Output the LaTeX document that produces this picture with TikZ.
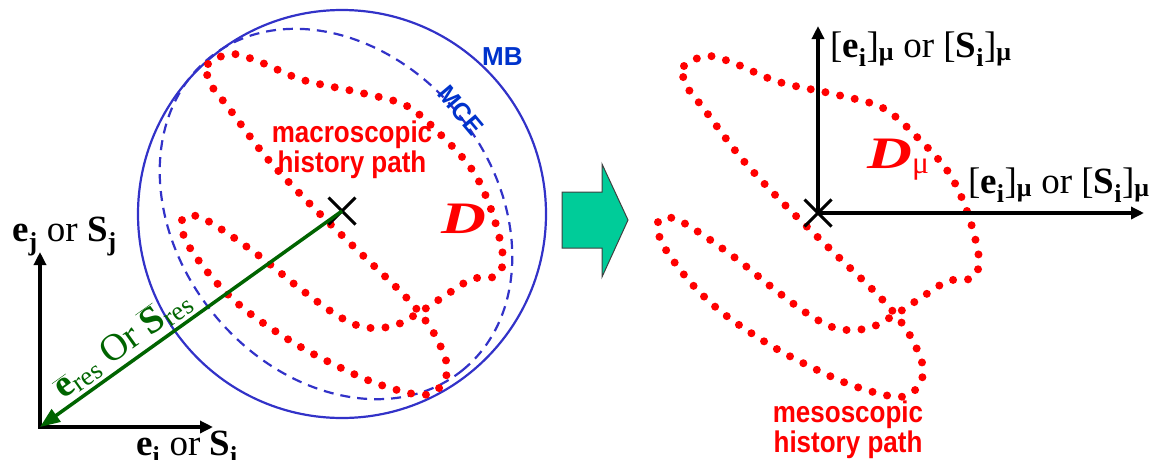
\documentclass[tikz,border=0pt]{standalone}
\usepackage{fontspec}
\setmainfont{Liberation Serif}
\setsansfont{Liberation Sans}
\usetikzlibrary{arrows.meta,shapes.misc}
\definecolor{mbblue}{RGB}{50,50,200}
\definecolor{txtblue}{RGB}{0,51,204}
\definecolor{dkgreen}{RGB}{0,100,0}
\definecolor{tealarrow}{RGB}{0,204,153}
\newcommand\bsub[1]{\textsubscript{\textbf{#1}}}
\begin{document}
\begin{tikzpicture}[x=1pt,y=-1pt,
  dots/.style={red, line width=8pt, line cap=round, dash pattern=on 0pt off 15pt},
  axisarrows/.style={line width=4pt, black, line join=miter, {Triangle[length=13pt,width=12pt]}-{Triangle[length=13pt,width=12pt]}},
  axlabel/.style={inner sep=0pt, anchor=base west, font=\fontsize{37}{42}\selectfont},
  redsans/.style={text=red, font=\sffamily\bfseries\fontsize{26}{30}\selectfont, align=center, inner sep=0pt},
  xmark/.style={cross out, draw=black, line width=3pt, minimum size=24pt, inner sep=0pt},
  bigD/.style={text=red, inner sep=0pt, anchor=base west, font=\fontsize{45}{50}\selectfont\bfseries\itshape}]
\useasboundingbox (0,0) rectangle (1162,459);

% MB circle and MCE ellipse
\draw[mbblue, line width=2.2pt] (342,214) circle[radius=204];
\draw[mbblue, line width=2.2pt, dash pattern=on 10pt off 7pt, rotate around={-51:(336,214)}]
  (336,214) ellipse[x radius=201, y radius=158];
\node[text=txtblue, font=\sffamily\bfseries\fontsize{26}{30}\selectfont, anchor=base west, inner sep=0pt] (mb) at (482,65) {MB};
\node[text=txtblue, font=\sffamily\bfseries\fontsize{25}{30}\selectfont, rotate=-50, inner sep=0pt] (mce) at (461,110) {MCE};

% history paths (macroscopic and mesoscopic)
\foreach \s in {(0,0),(476,2)}{
\draw[dots, shift={\s}] plot[smooth cycle, tension=0.55] coordinates {
 (210,83) (208,64) (232,54) (260,62) (303,80) (362,93) (407,106) (442,136) (473,171)
 (492,212) (503,257) (496,276) (472,279) (446,295) (420,312) (393,326) (363,327)
 (335,314) (298,287) (262,258) (224,231) (197,216) (182,220) (187,243) (215,281)
 (248,312) (294,343) (335,365) (378,384) (422,395) (442,385) (447,365) (436,337)
 (419,312) (397,288) (352,245) (308,202) (266,157) (228,107)};
}

% left axes
\coordinate (O) at (40,427);
\coordinate (Ly) at (40,252);
\coordinate (Lx) at (213,427);
\draw[axisarrows] (Ly) -- (O) -- (Lx);
\node[axlabel] (ljl) at (12,241) {\textbf{e}\bsub{j} or \textbf{S}\bsub{j}};
\node[axlabel] (lil) at (136,455) {\textbf{e}\bsub{i} or \textbf{S}\bsub{i}};

% centre mark and resultant
\node[xmark] (X) at (342,211) {};
\draw[dkgreen, line width=3.5pt, {Triangle[length=20pt,width=15pt]}-] (O) -- (X.center)
  node[pos=0.31, sloped, above=3pt, inner sep=0pt, text=dkgreen, font=\fontsize{38}{42}\selectfont]
  {$\overline{\mbox{\textbf{e}}}$\textsubscript{res} Or $\overline{\mbox{\textbf{S}}}$\textsubscript{res}};

\node[redsans] (macro) at (352,150) {\scalebox{1}[1.15]{macroscopic}\\\scalebox{1}[1.15]{history path}};
\node[bigD] (D) at (441,233) {\scalebox{1.38}[1]{D}};

% block arrow
\draw[fill=tealarrow, draw=black!75, line width=1pt]
  (562,192) -- (602,192) -- (602,164) -- (628,220) -- (602,277) -- (602,248) -- (562,248) -- cycle;

% right axes
\node[xmark] (X2) at (818,213) {};
\coordinate (Ry) at (818,26);
\coordinate (Rx) at (1144,213);
\draw[axisarrows] (Ry) -- (X2.center) -- (Rx);
\node[axlabel] (rtl) at (830,57) {[\textbf{e}\bsub{i}]\bsub{μ} or [\textbf{S}\bsub{i}]\bsub{μ}};
\node[axlabel] (rrl) at (968,193) {[\textbf{e}\bsub{i}]\bsub{μ} or [\textbf{S}\bsub{i}]\bsub{μ}};
\node[bigD] (Dmu) at (867,168) {\scalebox{1.38}[1]{D}\textsubscript{\upshape\mdseries μ}};
\node[redsans] (meso) at (848,430) {\scalebox{1}[1.15]{mesoscopic}\\\scalebox{1}[1.15]{history path}};
\end{tikzpicture}
\end{document}
